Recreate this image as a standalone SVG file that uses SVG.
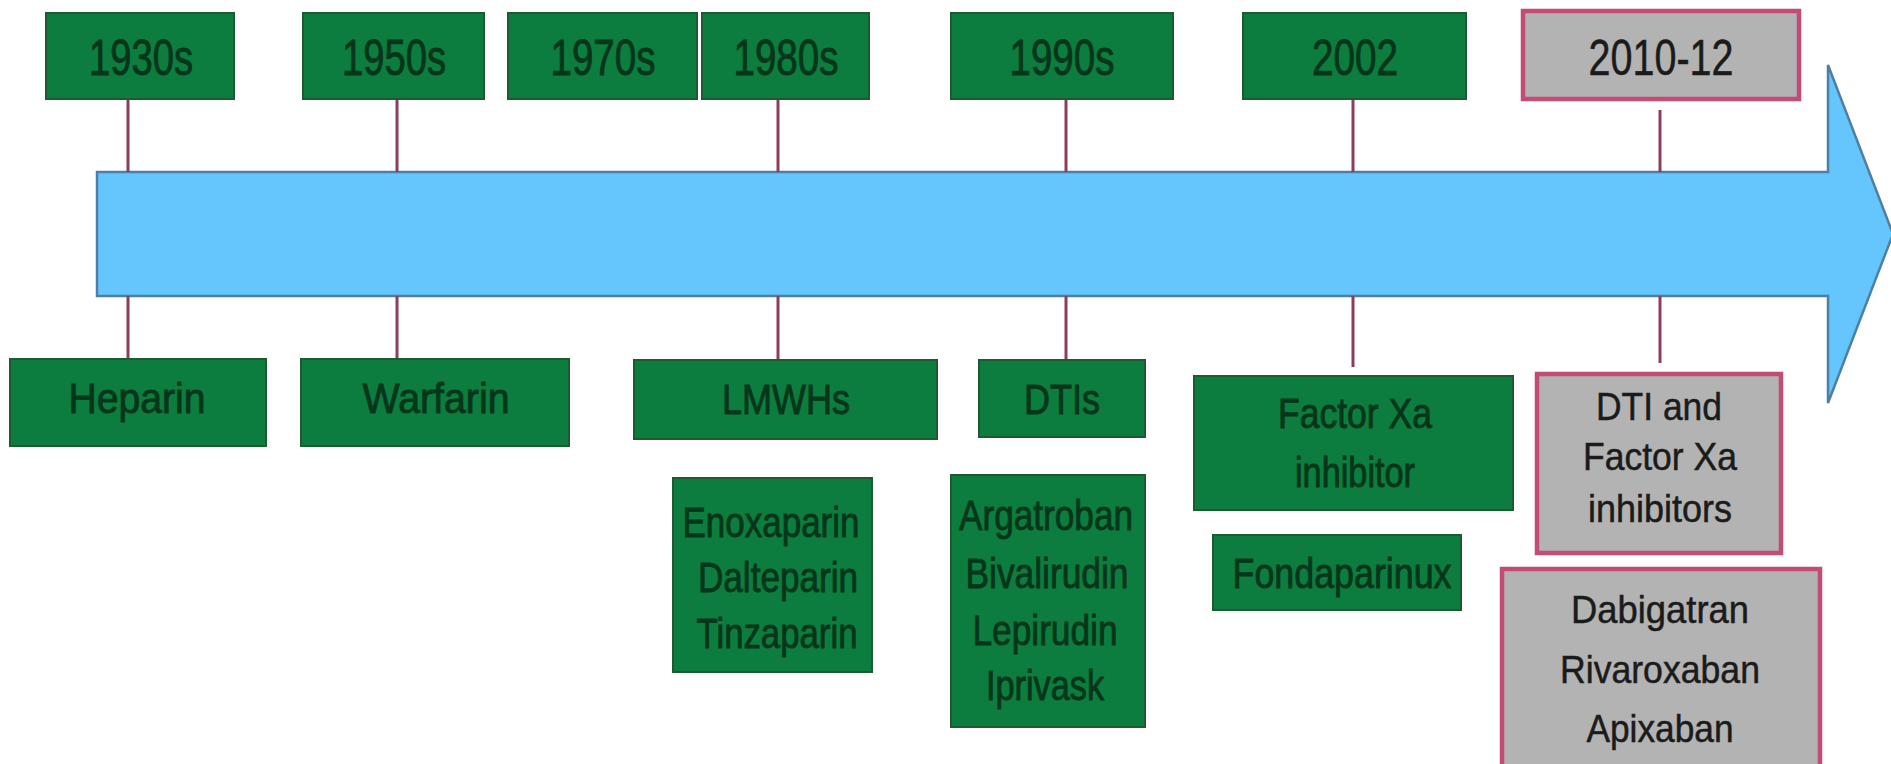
<svg xmlns="http://www.w3.org/2000/svg" width="1891" height="764" viewBox="0 0 1891 764">
<style>
.g{fill:#0c7d3e;stroke:#1d5a31;stroke-width:2}
.p{fill:#b3b3b3;stroke:#c24c74;stroke-width:4.5}
.tg{font-family:"Liberation Sans",Arial,sans-serif;fill:#05361a;stroke:#05361a;stroke-width:0.9;text-anchor:middle}
.tp{font-family:"Liberation Sans",Arial,sans-serif;fill:#1b1b1b;stroke:#1b1b1b;stroke-width:0.5;text-anchor:middle}
.yr{font-size:50px}
.lb{font-size:42px}
.gl{font-size:39px}
.c line{stroke:#8c3d5e;stroke-width:3}
</style>
<rect width="1891" height="764" fill="#ffffff"/>
<g id="timeline-arrow">
<polygon points="97,172 1828,172 1828,65 1893,234 1828,403 1828,296 97,296" fill="#64c6fd" stroke="#4d7fa6" stroke-width="2.5" stroke-linejoin="miter"/>
</g>
<g id="connectors" class="c">
<line x1="128" y1="99" x2="128" y2="172"/>
<line x1="128" y1="296" x2="128" y2="359"/>
<line x1="397" y1="99" x2="397" y2="172"/>
<line x1="397" y1="296" x2="397" y2="359"/>
<line x1="778" y1="99" x2="778" y2="172"/>
<line x1="778" y1="296" x2="778" y2="360"/>
<line x1="1066" y1="99" x2="1066" y2="172"/>
<line x1="1066" y1="296" x2="1066" y2="360"/>
<line x1="1353" y1="99" x2="1353" y2="172"/>
<line x1="1353" y1="296" x2="1353" y2="367"/>
<line x1="1660" y1="110" x2="1660" y2="172"/>
<line x1="1660" y1="296" x2="1660" y2="363"/>
</g>
<g id="y1930"><rect class="g" x="46" y="13" width="188" height="86"/><text class="tg yr" x="141" y="75" textLength="104" lengthAdjust="spacingAndGlyphs">1930s</text></g>
<g id="y1950"><rect class="g" x="303" y="13" width="181" height="86"/><text class="tg yr" x="394" y="75" textLength="104" lengthAdjust="spacingAndGlyphs">1950s</text></g>
<g id="y1970"><rect class="g" x="508" y="13" width="189" height="86"/><text class="tg yr" x="603" y="75" textLength="105" lengthAdjust="spacingAndGlyphs">1970s</text></g>
<g id="y1980"><rect class="g" x="702" y="13" width="167" height="86"/><text class="tg yr" x="786" y="75" textLength="105" lengthAdjust="spacingAndGlyphs">1980s</text></g>
<g id="y1990"><rect class="g" x="951" y="13" width="222" height="86"/><text class="tg yr" x="1062" y="75" textLength="105" lengthAdjust="spacingAndGlyphs">1990s</text></g>
<g id="y2002"><rect class="g" x="1243" y="13" width="223" height="86"/><text class="tg yr" x="1355" y="75" textLength="86" lengthAdjust="spacingAndGlyphs">2002</text></g>
<g id="y2010"><rect class="p" x="1523" y="11" width="276" height="88"/><text class="tp yr" x="1661" y="75" textLength="145" lengthAdjust="spacingAndGlyphs">2010-12</text></g>
<g id="heparin"><rect class="g" x="10" y="359" width="256" height="87"/><text class="tg lb" x="137" y="413" textLength="137" lengthAdjust="spacingAndGlyphs">Heparin</text></g>
<g id="warfarin"><rect class="g" x="301" y="359" width="268" height="87"/><text class="tg lb" x="436" y="413" textLength="147" lengthAdjust="spacingAndGlyphs">Warfarin</text></g>
<g id="lmwhs"><rect class="g" x="634" y="360" width="303" height="79"/><text class="tg lb" x="786" y="414" textLength="128" lengthAdjust="spacingAndGlyphs">LMWHs</text></g>
<g id="dtis"><rect class="g" x="979" y="360" width="166" height="77"/><text class="tg lb" x="1062" y="414" textLength="76" lengthAdjust="spacingAndGlyphs">DTIs</text></g>
<g id="factor-xa"><rect class="g" x="1194" y="376" width="319" height="134"/><text class="tg lb" x="1355" y="428" textLength="154" lengthAdjust="spacingAndGlyphs">Factor Xa</text><text class="tg lb" x="1355" y="487" textLength="120" lengthAdjust="spacingAndGlyphs">inhibitor</text></g>
<g id="fondaparinux"><rect class="g" x="1213" y="535" width="248" height="75"/><text class="tg lb" x="1342" y="588" textLength="219" lengthAdjust="spacingAndGlyphs">Fondaparinux</text></g>
<g id="lmwh-list"><rect class="g" x="673" y="478" width="199" height="194"/><text class="tg lb" x="771" y="537" textLength="177" lengthAdjust="spacingAndGlyphs">Enoxaparin</text><text class="tg lb" x="778" y="592" textLength="160" lengthAdjust="spacingAndGlyphs">Dalteparin</text><text class="tg lb" x="777" y="648" textLength="161" lengthAdjust="spacingAndGlyphs">Tinzaparin</text></g>
<g id="dti-list"><rect class="g" x="951" y="475" width="194" height="252"/><text class="tg lb" x="1046" y="530" textLength="174" lengthAdjust="spacingAndGlyphs">Argatroban</text><text class="tg lb" x="1047" y="588" textLength="163" lengthAdjust="spacingAndGlyphs">Bivalirudin</text><text class="tg lb" x="1045" y="645" textLength="145" lengthAdjust="spacingAndGlyphs">Lepirudin</text><text class="tg lb" x="1045" y="700" textLength="118" lengthAdjust="spacingAndGlyphs">Iprivask</text></g>
<g id="dti-fxa"><rect class="p" x="1537" y="374" width="244" height="179"/><text class="tp gl" x="1659" y="420" textLength="126" lengthAdjust="spacingAndGlyphs">DTI and</text><text class="tp gl" x="1660" y="470" textLength="154" lengthAdjust="spacingAndGlyphs">Factor Xa</text><text class="tp gl" x="1660" y="522" textLength="144" lengthAdjust="spacingAndGlyphs">inhibitors</text></g>
<g id="noac-list"><rect class="p" x="1502" y="569" width="318" height="205"/><text class="tp gl" x="1660" y="623" textLength="178" lengthAdjust="spacingAndGlyphs">Dabigatran</text><text class="tp gl" x="1660" y="683" textLength="200" lengthAdjust="spacingAndGlyphs">Rivaroxaban</text><text class="tp gl" x="1660" y="742" textLength="147" lengthAdjust="spacingAndGlyphs">Apixaban</text></g>
</svg>
